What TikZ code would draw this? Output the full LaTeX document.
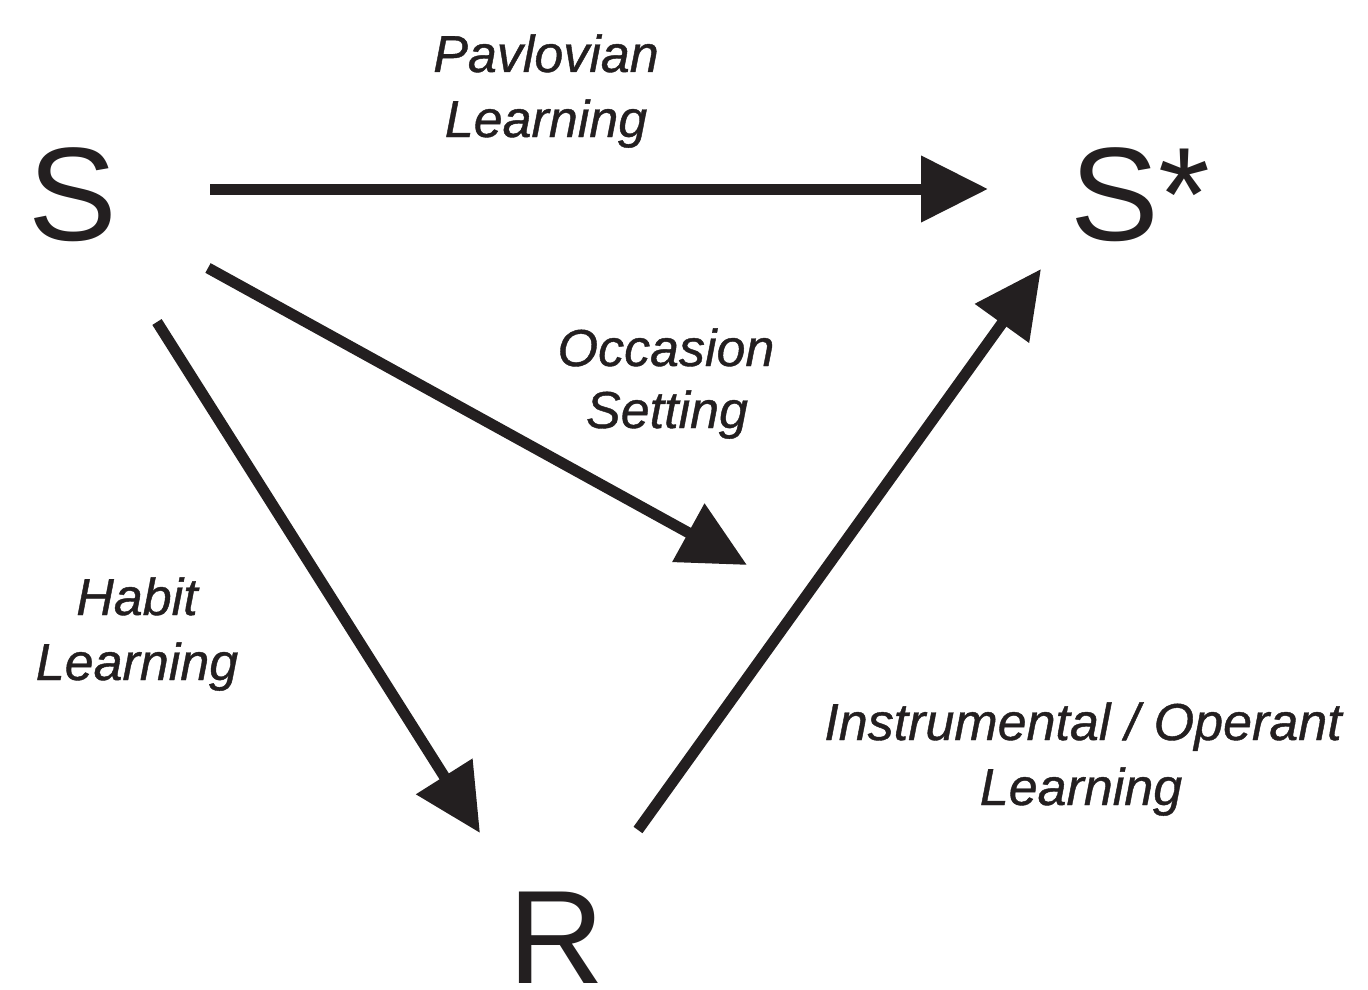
\documentclass[tikz,border=0pt]{standalone}
\usepackage{fontspec}
\setmainfont{Liberation Sans}
\newfontfamily\labfont[FakeBold=0.8]{Liberation Sans}
\usetikzlibrary{arrows.meta}
\definecolor{ink}{HTML}{231F20}
\begin{document}
\begin{tikzpicture}[x=1pt,y=-1pt,
  big/.style={font=\fontsize{133}{133}\selectfont, inner sep=0pt, text=ink},
  lab/.style={font=\labfont\fontsize{52}{65}\selectfont\itshape, inner sep=0pt, text=ink, anchor=base},
  arr/.style={draw=ink, line width=11pt, -{Triangle[length=67pt,width=64pt]}}]
\useasboundingbox (0,0) rectangle (1368,990);
\node[big, anchor=base west] (S) at (28,240) {S};
\node[big, anchor=base west] (Sstar) at (1070,240) {S*};
\node[big, anchor=base west] (R) at (508,983) {R};
\coordinate (p1) at (210,189);
\coordinate (p2) at (988,189);
\coordinate (h1) at (157,322);
\coordinate (h2) at (480,833);
\coordinate (o1) at (208,268);
\coordinate (o2) at (747,565);
\coordinate (i1) at (638,830);
\coordinate (i2) at (1041,269);
\draw[arr] (p1) -- (p2);
\draw[arr] (h1) -- (h2);
\draw[arr] (o1) -- (o2);
\draw[arr] (i1) -- (i2);
\node[lab] (pav1) at (546,72) {Pavlovian};
\node[lab] (pav2) at (546,137) {Learning};
\node[lab] (occ1) at (666,366) {Occasion};
\node[lab] (occ2) at (667,428) {Setting};
\node[lab] (hab1) at (137,615) {Habit};
\node[lab] (hab2) at (137,680) {Learning};
\node[lab] (ins1) at (1083,740) {Instrumental / Operant};
\node[lab] (ins2) at (1081,805) {Learning};
\end{tikzpicture}
\end{document}
